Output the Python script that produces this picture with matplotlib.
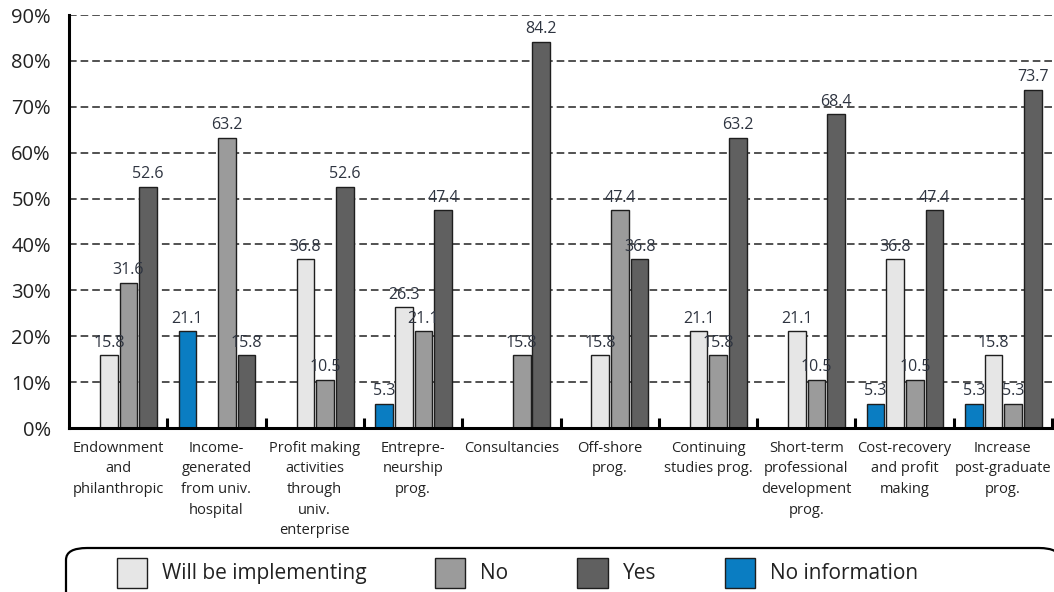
import matplotlib
matplotlib.use("Agg")
import matplotlib.pyplot as plt
import numpy as np
from matplotlib.patches import FancyBboxPatch

plt.rcParams['font.family'] = ['Open Sans', 'DejaVu Sans']

categories = [
    "Endownment\nand\nphilanthropic",
    "Income-\ngenerated\nfrom univ.\nhospital",
    "Profit making\nactivities\nthrough\nuniv.\nenterprise",
    "Entrepre-\nneurship\nprog.",
    "Consultancies",
    "Off-shore\nprog.",
    "Continuing\nstudies prog.",
    "Short-term\nprofessional\ndevelopment\nprog.",
    "Cost-recovery\nand profit\nmaking",
    "Increase\npost-graduate\nprog.",
]
no_information = [0, 21.1, 0, 5.3, 0, 0, 0, 0, 5.3, 5.3]
will_be_implementing = [15.8, 0, 36.8, 26.3, 0, 15.8, 21.1, 21.1, 36.8, 15.8]
no = [31.6, 63.2, 10.5, 21.1, 15.8, 47.4, 15.8, 10.5, 10.5, 5.3]
yes = [52.6, 15.8, 52.6, 47.4, 84.2, 36.8, 63.2, 68.4, 47.4, 73.7]

series = [
    ("No information", no_information, "#0a7dc2"),
    ("Will be implementing", will_be_implementing, "#e6e6e6"),
    ("No", no, "#9b9b9b"),
    ("Yes", yes, "#606060"),
]
yticks = [0, 10, 20, 30, 40, 50, 60, 70, 80, 90]

W, H = 1054, 592
fig = plt.figure(figsize=(W / 100, H / 100), dpi=100)
ax = fig.add_axes([69 / W, 1 - 428 / H, (1052 - 69) / W, (428 - 15) / H])

x = np.arange(len(categories))
offsets = [-0.3, -0.1, 0.1, 0.3]
bw = 0.18
handles = {}
for (name, vals, col), off in zip(series, offsets):
    vals = np.array(vals, dtype=float)
    mask = vals > 0
    bars = ax.bar(x[mask] + off + 0.005, vals[mask], width=bw, color=col,
                  edgecolor="#1e1e1e", linewidth=1.0, zorder=3, label=name)
    handles[name] = bars
    for xi, v in zip(x[mask] + off + 0.005, vals[mask]):
        ax.text(xi, v + 1.0, f"{v:.1f}", ha="center", va="bottom",
                fontsize=11.5, color="#2e3440", zorder=4)

ax.set_xlim(-0.5, len(categories) - 0.5)
ax.set_ylim(0, 90)
ax.set_yticks(yticks)
ax.set_yticklabels([f"{t}%" for t in yticks], fontsize=14.5, color="#222222")
ax.tick_params(axis="y", length=0, pad=13)
for t in yticks[1:]:
    ax.axhline(t, color="#222222", linestyle=(0, (5, 2.6)), linewidth=1.1, zorder=1)

ax.set_xticks(x)
ax.set_xticklabels(categories, fontsize=10.5, color="#222222", linespacing=1.52)
ax.tick_params(axis="x", length=0, pad=9)
ax.set_xticks(np.arange(0.5, len(categories), 1.0), minor=True)
ax.tick_params(axis="x", which="minor", direction="in", length=7.5, width=2.2, color="black")

for s in ["top", "right"]:
    ax.spines[s].set_visible(False)
ax.spines["left"].set_linewidth(2.2)
ax.spines["bottom"].set_linewidth(2.2)
ax.spines["left"].set_zorder(5)
ax.spines["bottom"].set_zorder(5)

# legend frame
frame = FancyBboxPatch((66 / W, -20 / H), (1060 - 66) / W, (592 - 548 + 20) / H,
                       boxstyle="round,pad=0,rounding_size=0.02",
                       transform=fig.transFigure, facecolor="white",
                       edgecolor="black", linewidth=1.6, clip_on=False)
fig.patches.append(frame)

order = ["Will be implementing", "No", "Yes", "No information"]
leg = fig.legend([handles[n] for n in order], order, loc="upper left",
                 bbox_to_anchor=(100 / W, 1 - 541 / H), ncol=4, frameon=False,
                 fontsize=15, handlelength=1.45, handleheight=1.84,
                 columnspacing=3.3, handletextpad=0.72, borderpad=0.3)
for t in leg.get_texts():
    t.set_color("#222222")

fig.savefig("out.png", dpi=100)
